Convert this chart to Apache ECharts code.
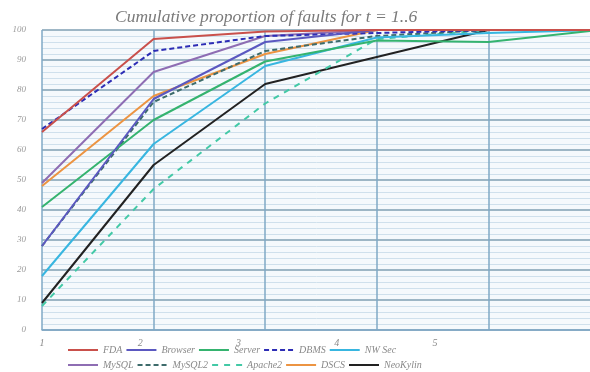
<!DOCTYPE html>
<html>
<head>
<meta charset="utf-8">
<script src="https://cdn.jsdelivr.net/npm/echarts@6/dist/echarts.min.js"></script>
<style>html,body{margin:0;padding:0;background:#fff}#c{width:590px;height:372px}</style>
</head>
<body>
<div id="c"></div>
<script>
var xValues = [1, 2, 3, 4, 5, 6];
var xTickLabels = ['1', '2', '3', '4', '5'];
var yTicks = [0, 10, 20, 30, 40, 50, 60, 70, 80, 90, 100];

var seriesNames = ['FDA', 'Browser', 'Server', 'DBMS', 'NW Sec', 'MySQL', 'MySQL2', 'Apache2', 'DSCS', 'NeoKylin'];
var FDA      = [66, 97, 99.5, 100, 100, 100];
var Browser  = [28, 77, 96, 100, 100, 100];
var Server   = [41, 70, 89.5, 96.5, 96, 100];
var DBMS     = [67, 93, 98, 99, 100, 100];
var NWSec    = [18, 62, 88, 97.5, 99, 100];
var MySQL    = [49, 86, 98, 100, 100, 100];
var MySQL2   = [28, 76, 93, 98, 100, 100];
var Apache2  = [8, 47, 75.5, 97, 100, 100];
var DSCS     = [48, 78, 92, 100, 100, 100];
var NeoKylin = [9, 55, 82, 91, 100, 100];

var values = [FDA, Browser, Server, DBMS, NWSec, MySQL, MySQL2, Apache2, DSCS, NeoKylin];
var colors = ['#c9504b', '#5b58c0', '#35b36f', '#2d2db5', '#38b6e0', '#8e6db3', '#3d6b6b', '#43c9a6', '#ec9442', '#222222'];
var dashes = ['solid', 'solid', 'solid', [5, 3], 'solid', 'solid', [5, 3], [6, 6], 'solid', 'solid'];

var serif = '"Liberation Serif", "DejaVu Serif", serif';

var series = seriesNames.map(function (n, i) {
  return {
    name: n,
    type: 'line',
    xAxisIndex: 0,
    symbol: 'none',
    data: xValues.map(function (x, j) { return [x, values[i][j]]; }),
    lineStyle: { color: colors[i], width: 2, type: dashes[i] },
    itemStyle: { color: colors[i] },
    z: 3 + (10 - i)
  };
});

var legendText = { color: '#8a8a8a', fontFamily: serif, fontStyle: 'italic', fontSize: 10, width: 60 };
var legendCommon = { left: 62, itemWidth: 30, itemHeight: 8, itemGap: 3, textStyle: legendText, itemStyle: { opacity: 0 } };

var chart = echarts.init(document.getElementById('c'), null, { renderer: 'canvas' });
chart.setOption({
  animation: false,
  backgroundColor: '#ffffff',
  title: {
    text: 'Cumulative proportion of faults for t = 1..6',
    left: 110, top: 3,
    textStyle: { color: '#7a7a7a', fontFamily: serif, fontStyle: 'italic', fontWeight: 'normal', fontSize: 17.5 }
  },
  legend: [
    Object.assign({ data: seriesNames.slice(0, 5), top: 340 }, legendCommon),
    Object.assign({ data: seriesNames.slice(5), top: 355 }, legendCommon)
  ],
  grid: { left: 42, width: 558, top: 30, height: 300, show: true, backgroundColor: '#f5f9fc', borderWidth: 0, outerBoundsMode: 'none', containLabel: false },
  xAxis: [
    {
      type: 'value', min: 1, max: 6, interval: 1,
      axisLine: { show: true, lineStyle: { color: '#7fa8c6', width: 1.5 } },
      axisTick: { show: false },
      axisLabel: { show: false },
      splitLine: { show: true, lineStyle: { color: '#7fa8c6', width: 1.5 } }
    },
    {
      type: 'value', min: 1, max: 6.68, interval: 1, position: 'bottom',
      axisLine: { show: false }, axisTick: { show: false }, splitLine: { show: false },
      axisLabel: {
        show: true, margin: 8, color: '#8a8a8a', fontFamily: serif, fontStyle: 'italic', fontSize: 10,
        formatter: function (v) { var k = Math.round(v) - 1; return (k >= 0 && k < xTickLabels.length) ? xTickLabels[k] : ''; }
      }
    }
  ],
  yAxis: {
    type: 'value', min: yTicks[0], max: yTicks[yTicks.length - 1], interval: 10,
    axisLine: { show: false },
    axisTick: { show: false },
    axisLabel: { color: '#9a9a9a', fontFamily: serif, fontStyle: 'italic', fontSize: 9, margin: 16 },
    splitLine: { show: true, lineStyle: { color: '#7f9fb3', width: 1.5 } },
    minorTick: { show: false, splitNumber: 5 },
    minorSplitLine: { show: true, lineStyle: { color: '#cfe0ec', width: 1 } }
  },
  series: series
});
</script>
</body>
</html>
